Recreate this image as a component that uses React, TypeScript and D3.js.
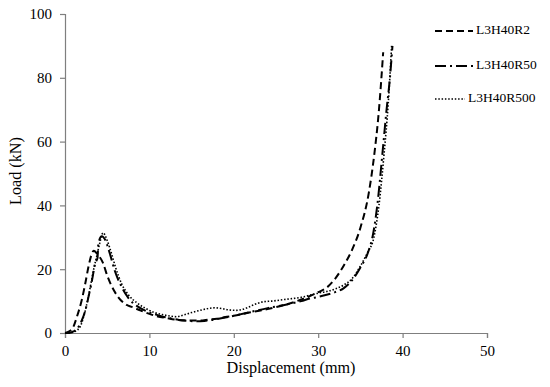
import { useEffect, useRef } from 'react'
import * as d3 from 'd3'

const W = 550, H = 387
const M = { top: 14, right: 63, bottom: 54, left: 65 }

const xTicks = [0, 10, 20, 30, 40, 50]
const yTicks = [0, 20, 40, 60, 80, 100]

// L3H40R2 (dashed)
const r2Disp = [0, 0.5, 1, 1.4, 2, 2.4, 2.8, 3.2, 3.4, 3.9, 4.5, 5, 6.1, 7.3, 8, 9, 10, 11, 12, 13, 14, 15, 16, 17, 18, 19, 20, 22, 24, 26, 28, 30, 31, 32, 33, 34, 35, 36, 36.6, 37.2, 37.7]
const r2Load = [0, 0.5, 2, 5, 10.5, 15.5, 21, 25, 25.8, 24.5, 22, 18, 12, 8.8, 8.1, 7, 6, 5.2, 4.7, 4.2, 4, 3.9, 3.9, 4.2, 4.5, 5, 5.4, 6.5, 7.5, 8.8, 10.5, 12.8, 14.2, 17, 21, 26, 33, 44, 55, 70, 88]

// L3H40R50 (dash-dot)
const r50Disp = [0, 0.5, 1, 1.5, 2, 2.4, 2.8, 3.2, 3.6, 3.85, 3.95, 4.35, 4.8, 5.3, 5.9, 6.7, 7.5, 8.5, 9.5, 10.5, 11.5, 12.5, 13.5, 14.5, 15.5, 16.5, 17.5, 18.5, 20, 22, 24, 26, 28, 29, 30, 31, 32, 33, 34, 35, 36, 36.5, 37, 37.6, 38.1, 38.5, 38.8]
const r50Load = [0, 0, 0.5, 1.5, 4, 7, 11.5, 16.5, 22, 23.5, 28, 30.3, 29, 25, 19.5, 14.5, 11, 8.5, 7, 6, 5.2, 4.6, 4.1, 3.8, 3.7, 3.8, 4.1, 4.6, 5.4, 6.6, 7.8, 8.8, 10, 10.8, 11.3, 12, 12.8, 14, 16.5, 20.5, 26, 31, 40, 56, 70, 80, 90]

// L3H40R500 (dotted)
const r500Disp = [0, 0.5, 1, 1.5, 1.8, 2.4, 3, 3.4, 3.8, 4.1, 4.5, 5, 5.5, 6, 6.7, 7.5, 8.5, 9.5, 10.5, 11.5, 12.5, 13.2, 14, 15, 16, 17, 17.8, 18.5, 19.5, 20.3, 21.5, 22.5, 23.5, 24.5, 26, 28, 30, 31, 32, 33, 34, 35, 35.8, 36.6, 37.2, 37.8, 38.3, 38.7]
const r500Load = [0, 0, 0.3, 1, 2, 7, 14.5, 20, 24.5, 28, 31.4, 29, 25, 20.5, 15.5, 12, 9.5, 7.8, 6.5, 5.8, 5.3, 5.1, 5.6, 6.4, 7.1, 7.7, 7.9, 7.7, 7.2, 7.1, 7.8, 9, 9.8, 10, 10.5, 11.2, 12.5, 13, 13.8, 15, 17, 21, 25, 30, 40, 56, 72, 90]

const seriesNames = ['L3H40R2', 'L3H40R50', 'L3H40R500']

export default function App() {
  const svgRef = useRef<SVGSVGElement>(null)

  useEffect(() => {
    const svg = d3.select(svgRef.current!)
    svg.selectAll('*').remove()

    const iw = W - M.left - M.right
    const ih = H - M.top - M.bottom
    const x = d3.scaleLinear().domain([0, 50]).range([0, iw])
    const y = d3.scaleLinear().domain([0, 100]).range([ih, 0])

    const font = '"Liberation Serif", "Times New Roman", serif'
    const g = svg.append('g').attr('transform', `translate(${M.left},${M.top})`)

    // axes
    const yAx = g.append('g').call(d3.axisLeft(y).tickValues(yTicks).tickSize(5).tickPadding(8))
    const xAx = g.append('g').attr('transform', `translate(0,${ih})`)
      .call(d3.axisBottom(x).tickValues(xTicks).tickSize(5).tickPadding(7))
    ;[yAx, xAx].forEach(ax => {
      ax.select('.domain').attr('stroke', '#7f7f7f').attr('stroke-width', 1.2)
      ax.selectAll('.tick line').attr('stroke', '#7f7f7f').attr('stroke-width', 1.2)
      ax.selectAll<SVGTextElement, unknown>('.tick text')
        .attr('font-size', 15).attr('font-family', font).attr('fill', '#000')
    })

    g.append('text').attr('x', 226).attr('y', ih + 40)
      .attr('text-anchor', 'middle').attr('font-size', 16.2).attr('font-family', font)
      .text('Displacement (mm)')
    g.append('text').attr('transform', `translate(${21 - M.left},${171 - M.top}) rotate(-90)`)
      .attr('text-anchor', 'middle').attr('font-size', 16.2).attr('font-family', font)
      .text('Load (kN)')

    const series = [
      { disp: r2Disp, load: r2Load, dash: '7 4', width: 2 },
      { disp: r50Disp, load: r50Load, dash: '11 4 2 4', width: 2 },
      { disp: r500Disp, load: r500Load, dash: '1.5 1.8', width: 1.6 },
    ]

    const line = d3.line<[number, number]>()
      .x(d => x(d[0])).y(d => y(d[1])).curve(d3.curveMonotoneX)

    series.forEach(s => {
      const pts = s.disp.map((d, i) => [d, s.load[i]] as [number, number])
      g.append('path').datum(pts)
        .attr('fill', 'none').attr('stroke', '#000')
        .attr('stroke-width', s.width).attr('stroke-dasharray', s.dash)
        .attr('d', line)
    })

    // legend
    const lg = svg.append('g')
    const legendRows = [
      { y: 31, x2: 473, tx: 476 },
      { y: 66, x2: 473, tx: 476 },
      { y: 99, x2: 465, tx: 468 },
    ]
    legendRows.forEach((r, i) => {
      lg.append('line').attr('x1', 435).attr('x2', r.x2).attr('y1', r.y).attr('y2', r.y)
        .attr('stroke', '#000').attr('stroke-width', series[i].width)
        .attr('stroke-dasharray', series[i].dash)
      lg.append('text').attr('x', r.tx).attr('y', r.y).attr('dominant-baseline', 'middle')
        .attr('font-size', 13.5).attr('font-family', font).attr('fill', '#000')
        .text(seriesNames[i])
    })
  }, [])

  return <svg ref={svgRef} width={W} height={H}
    style={{ position: 'absolute', left: 0, top: 0, background: '#fff' }} />
}
